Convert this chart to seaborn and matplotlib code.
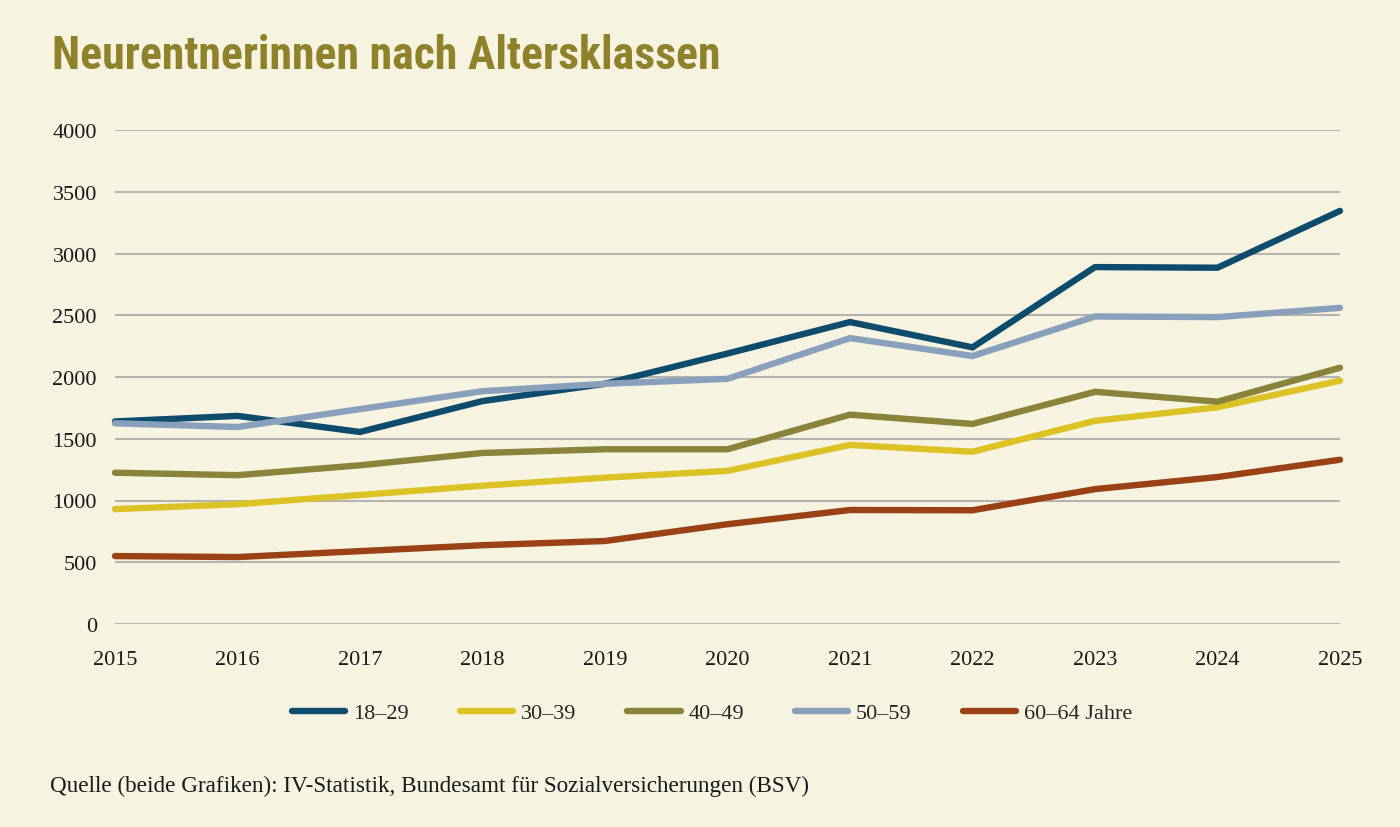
import pandas as pd
import matplotlib.pyplot as plt
import seaborn as sns

# --- data ---
years = list(range(2015, 2026))
age_groups = ["18–29", "30–39", "40–49", "50–59", "60–64 Jahre"]
v_18_29 = [1640, 1685, 1555, 1805, 1945, 2190, 2445, 2240, 2890, 2885, 3345]
v_30_39 = [930, 970, 1045, 1120, 1185, 1240, 1450, 1395, 1645, 1755, 1970]
v_40_49 = [1225, 1205, 1285, 1385, 1415, 1415, 1695, 1620, 1880, 1800, 2075]
v_50_59 = [1625, 1595, 1740, 1885, 1945, 1985, 2315, 2170, 2490, 2485, 2560]
v_60_64 = [550, 542, 590, 638, 672, 808, 923, 921, 1092, 1190, 1330]
yticks = [0, 500, 1000, 1500, 2000, 2500, 3000, 3500, 4000]

colors = ["#0E4C6E", "#DDC226", "#8A843A", "#88A0BC", "#9A4215"]
BG = "#F6F3E0"

df = pd.DataFrame({"Jahr": years * 5,
                   "Anzahl": v_18_29 + v_30_39 + v_40_49 + v_50_59 + v_60_64,
                   "Gruppe": [g for g in age_groups for _ in years]})

sns.set_style("white")
plt.rcParams["font.family"] = ["Liberation Serif", "DejaVu Serif"]

fig = plt.figure(figsize=(14, 8.28), dpi=100, facecolor=BG)
ax = fig.add_axes([115 / 1400, 1 - 625 / 828, (1340 - 115) / 1400, (625 - 131) / 828])
ax.set_facecolor(BG)

sns.lineplot(data=df, x="Jahr", y="Anzahl", hue="Gruppe", hue_order=age_groups,
             palette=colors, linewidth=4.6, ax=ax, legend=False)
for ln in ax.get_lines():
    ln.set_solid_capstyle("round")
    ln.set_solid_joinstyle("miter")
    ln.set_clip_on(False)
    ln.set_zorder(3)

ax.set_xlim(2015, 2025)
ax.set_ylim(0, 4000)
ax.set_yticks(yticks)
ax.set_yticklabels([str(t) for t in yticks])
ax.set_xticks(years)
ax.set_xticklabels([str(y) for y in years])
ax.yaxis.grid(True, color="#B5B3AE", linewidth=1.5)
ax.xaxis.grid(False)
ax.set_axisbelow(True)
for s in ax.spines.values():
    s.set_visible(False)
ax.tick_params(axis="y", length=0, pad=13, labelsize=16, labelcolor="#1a1a1a")
ax.tick_params(axis="x", length=0, pad=19, labelsize=16, labelcolor="#1a1a1a")
ax.set_xlabel("")
ax.set_ylabel("")

# legend
handles = [plt.Line2D([0], [0], color=c, linewidth=4.6, solid_capstyle="round") for c in colors]
fig.legend(handles, age_groups, loc="center", bbox_to_anchor=(712 / 1400, 1 - 714 / 828),
           ncol=5, frameon=False, fontsize=16, handlelength=2.4, handletextpad=0.35,
           columnspacing=2.3)

# title and source
fig.text(52 / 1400, 1 - 56 / 828, "Neurentnerinnen nach Altersklassen",
         family=["Roboto Condensed", "Roboto"], fontweight="bold",
         fontsize=33, color="#8F822A", va="center", ha="left")
fig.text(50 / 1400, 1 - 786 / 828,
         "Quelle (beide Grafiken): IV-Statistik, Bundesamt für Sozialversicherungen (BSV)",
         fontsize=16.7, color="#1a1a1a", va="center", ha="left")

fig.savefig("out.png", dpi=100, facecolor=BG)
